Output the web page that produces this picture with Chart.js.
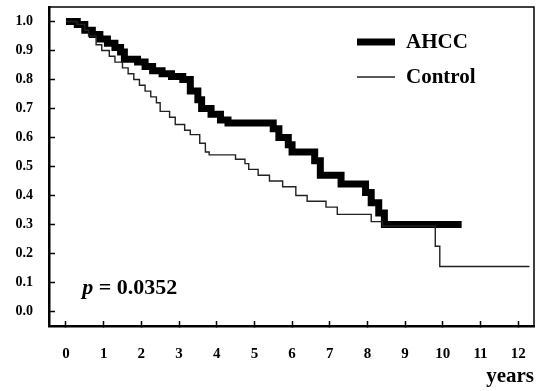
<!DOCTYPE html>
<html>
<head>
<meta charset="utf-8">
<script src="https://cdn.jsdelivr.net/npm/chart.js@4/dist/chart.umd.min.js"></script>
<style>
  html, body { margin: 0; padding: 0; background: #fff; }
  #wrap { width: 536px; height: 391px; }
</style>
</head>
<body>
<div id="wrap"><canvas id="km"></canvas></div>
<script>
// --- DONNEES ---
const ahccTimes = [0, 0.3, 0.5, 0.7, 0.9, 1.1, 1.3, 1.45, 1.55, 1.9, 2.1, 2.3, 2.55, 2.8, 3.1, 3.3, 3.5, 3.6, 3.85, 4.1, 4.3, 5.5, 5.65, 5.9, 6.0, 6.6, 6.75, 7.3, 7.95, 8.1, 8.3, 8.45, 10.5];
const ahccSurv  = [1.0, 0.99, 0.97, 0.955, 0.94, 0.925, 0.91, 0.895, 0.87, 0.86, 0.845, 0.83, 0.82, 0.81, 0.80, 0.76, 0.73, 0.70, 0.68, 0.66, 0.65, 0.63, 0.60, 0.575, 0.55, 0.52, 0.47, 0.44, 0.41, 0.375, 0.34, 0.30, 0.30];

const controlTimes = [0, 0.3, 0.5, 0.6, 0.8, 0.95, 1.15, 1.3, 1.5, 1.65, 1.8, 1.95, 2.1, 2.25, 2.4, 2.5, 2.75, 2.9, 3.15, 3.3, 3.55, 3.7, 3.8, 4.5, 4.75, 4.85, 5.1, 5.4, 5.75, 6.1, 6.4, 6.9, 7.2, 8.1, 8.4, 9.8, 9.92, 12.3];
const controlSurv  = [1.0, 0.99, 0.97, 0.95, 0.92, 0.90, 0.88, 0.86, 0.84, 0.82, 0.80, 0.78, 0.76, 0.74, 0.72, 0.69, 0.67, 0.645, 0.625, 0.61, 0.58, 0.55, 0.54, 0.525, 0.51, 0.49, 0.47, 0.45, 0.43, 0.40, 0.38, 0.36, 0.335, 0.31, 0.295, 0.225, 0.155, 0.155];

const seriesLabels = ['AHCC', 'Control'];
const xTickValues = [0, 1, 2, 3, 4, 5, 6, 7, 8, 9, 10, 11, 12];
const yTickValues = [0, 0.1, 0.2, 0.3, 0.4, 0.5, 0.6, 0.7, 0.8, 0.9, 1.0];
const pValueText = '0.0352';

const SERIF = '"Liberation Serif", "DejaVu Serif", serif';

function toPoints(ts, ss) {
  return ts.map((t, i) => ({ x: t, y: ss[i] }));
}

// Cadre fin en haut et a droite
const framePlugin = {
  id: 'frame',
  afterDraw(chart) {
    const { ctx, chartArea: a } = chart;
    ctx.save();
    ctx.strokeStyle = '#000';
    ctx.lineWidth = 1.5;
    ctx.beginPath();
    ctx.moveTo(a.left, a.top);
    ctx.lineTo(a.right, a.top);
    ctx.lineTo(a.right, a.bottom);
    ctx.stroke();
    ctx.restore();
  }
};

// Legende dans la zone du graphe + valeur p
const annotPlugin = {
  id: 'annot',
  afterDraw(chart) {
    const { ctx, chartArea: a } = chart;
    ctx.save();
    ctx.textBaseline = 'middle';
    ctx.fillStyle = '#000';
    chart.data.datasets.forEach((ds, i) => {
      const y = a.top + 35 + i * 35;
      ctx.strokeStyle = ds.borderColor;
      ctx.lineWidth = ds.borderWidth;
      ctx.beginPath();
      ctx.moveTo(a.right - 177, y);
      ctx.lineTo(a.right - 139, y);
      ctx.stroke();
      ctx.font = 'bold 21px ' + SERIF;
      ctx.textAlign = 'left';
      ctx.fillText(ds.label, a.right - 128, y + 1);
    });

    // p = 0.0352
    const xs = chart.scales.x, ys = chart.scales.y;
    let px = xs.getPixelForValue(0.43);
    const py = ys.getPixelForValue(0.08);
    ctx.font = 'italic bold 22px ' + SERIF;
    ctx.fillText('p', px, py);
    px += ctx.measureText('p').width;
    ctx.font = 'bold 22px ' + SERIF;
    ctx.fillText(' = ' + pValueText, px, py);
    ctx.restore();
  }
};

const chart = new Chart(document.getElementById('km'), {
  type: 'line',
  data: {
    datasets: [
      {
        label: seriesLabels[0],
        data: toPoints(ahccTimes, ahccSurv),
        borderColor: '#000',
        borderWidth: 7,
        stepped: 'before',
        pointRadius: 0,
        borderJoinStyle: 'miter',
        borderCapStyle: 'butt',
        order: 1
      },
      {
        label: seriesLabels[1],
        data: toPoints(controlTimes, controlSurv),
        borderColor: '#222',
        borderWidth: 1.4,
        stepped: 'before',
        pointRadius: 0,
        borderJoinStyle: 'miter',
        order: 0
      }
    ]
  },
  options: {
    responsive: true,
    maintainAspectRatio: false,
    animation: false,
    layout: { padding: { top: 7, right: 2, left: 0, bottom: 0 } },
    plugins: {
      legend: { display: false },
      tooltip: { enabled: false }
    },
    scales: {
      x: {
        type: 'linear',
        min: -0.45,
        max: 12.42,
        afterBuildTicks: (s) => { s.ticks = xTickValues.map(v => ({ value: v })); },
        afterFit: (s) => { s.height = 65; s.paddingLeft = 0; s.paddingRight = 0; },
        ticks: {
          color: '#000',
          font: { family: SERIF, size: 15, weight: 'bold' },
          padding: 24,
          maxRotation: 0,
          callback: (v) => String(v)
        },
        grid: { drawOnChartArea: false, drawTicks: true, tickLength: -5, tickWidth: 1.5, tickColor: '#000' },
        border: { display: true, color: '#000', width: 2.5 },
        title: {
          display: true,
          text: 'years',
          align: 'end',
          color: '#000',
          font: { family: SERIF, size: 21, weight: 'bold' },
          padding: { top: 0, bottom: 2 }
        }
      },
      y: {
        min: -0.05,
        max: 1.05,
        afterBuildTicks: (s) => { s.ticks = yTickValues.map(v => ({ value: v })); },
        afterFit: (s) => { s.width = 49; s.paddingTop = 0; s.paddingBottom = 0; },
        ticks: {
          color: '#000',
          font: { family: SERIF, size: 14, weight: 'bold' },
          padding: 22,
          callback: (v) => v.toFixed(1)
        },
        grid: { drawOnChartArea: false, drawTicks: true, tickLength: -6, tickWidth: 1.5, tickColor: '#000' },
        border: { display: true, color: '#000', width: 2.5 }
      }
    }
  },
  plugins: [framePlugin, annotPlugin]
});
</script>
</body>
</html>
